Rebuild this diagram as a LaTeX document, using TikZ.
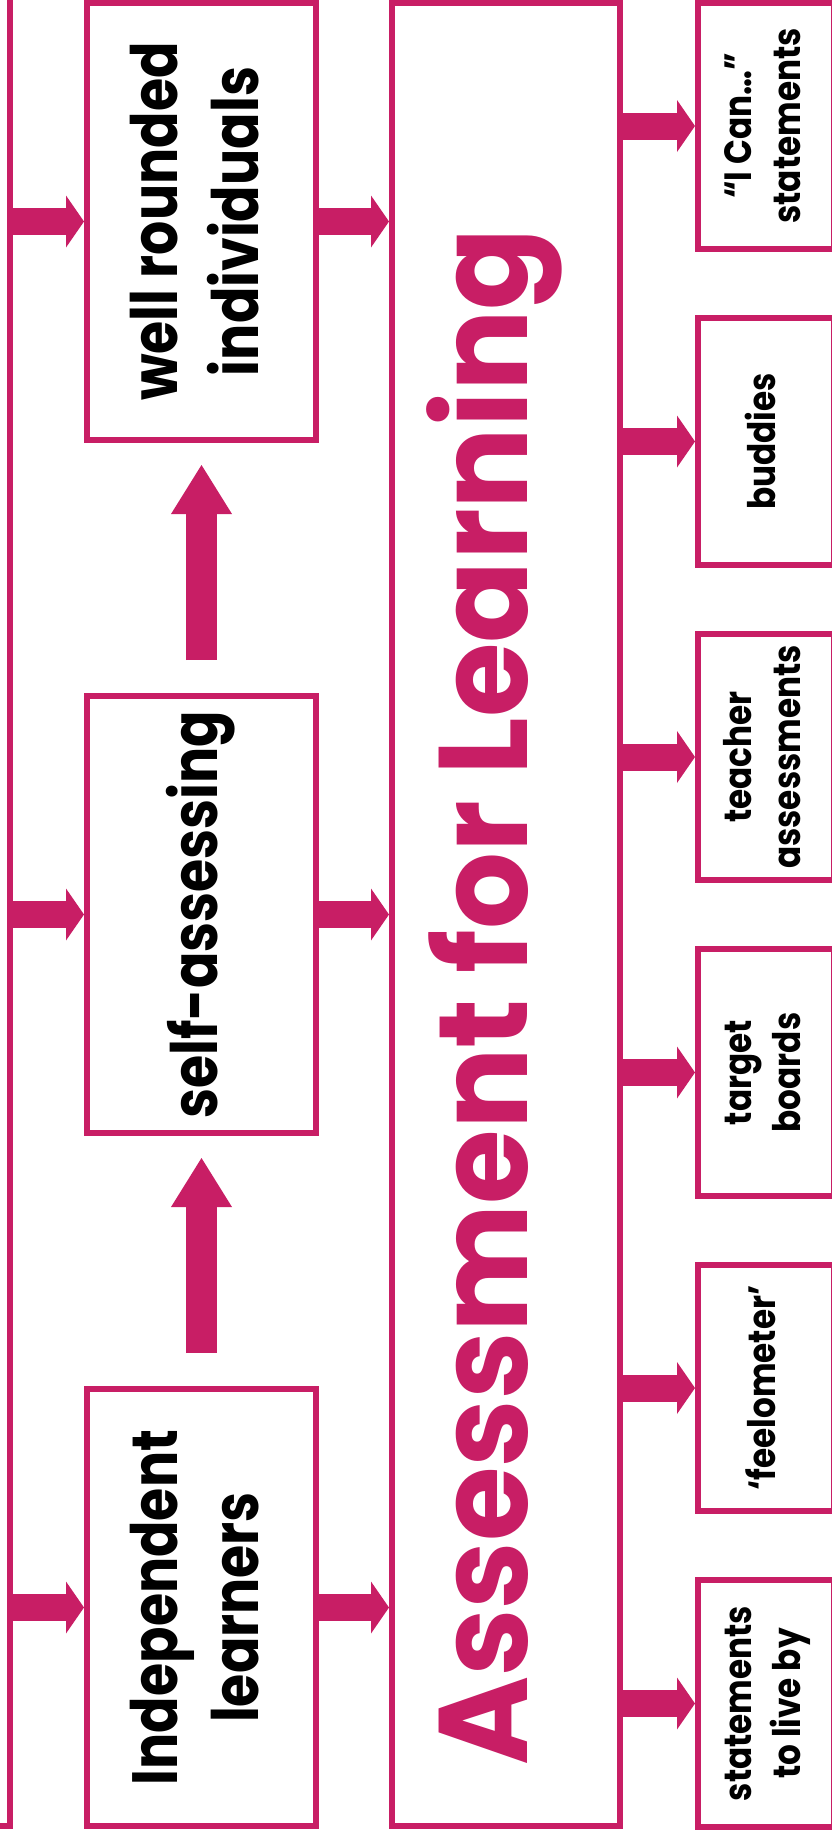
\documentclass[tikz,border=0pt]{standalone}
\usepackage{fontspec}
\setmainfont{Poppins}
\usepackage{graphicx}
\usetikzlibrary{arrows.meta, calc}
\definecolor{aflPink}{HTML}{C81E65}
\newcommand{\turnedtext}[2]{\rotatebox{90}{\scalebox{#1}[1]{\begin{tabular}{@{}c@{}}#2\end{tabular}}}}
\tikzset{
  aflbox/.style={
    rectangle, draw=aflPink, line width=6pt,
    fill=white, inner sep=0pt,
    align=center, text=black
  },
  pillar/.style={
    aflbox, minimum width=229pt, minimum height=437pt,
    font=\fontsize{64}{81}\selectfont\bfseries
  },
  tagbox/.style={
    aflbox, minimum width=136pt, minimum height=246.5pt,
    font=\fontsize{38}{49}\selectfont\bfseries
  },
  flowarrow/.style={
    -{Triangle[length=18pt, width=52pt, line width=0pt]},
    aflPink, line width=27pt
  },
  risearrow/.style={
    -{Triangle[length=49pt, width=61pt, line width=0pt]},
    aflPink, line width=31pt
  },
  titletext/.style={
    font=\fontsize{126}{150}\selectfont\bfseries, text=aflPink,
    rotate=90, anchor=base, inner sep=0pt
  }
}
\begin{document}
\begin{tikzpicture}[x=1pt, y=-1pt]
  \useasboundingbox (0,0) rectangle (832,1836);
  \clip (0,0) rectangle (832,1836);
  % left panel, mostly off the page
  \node[aflbox, minimum width=210pt, minimum height=1876pt] (lead) at (-95,888) {};
  % the three stages
  \node[pillar] (well) at (201.5,221.5) {\turnedtext{0.84}{well rounded\\individuals}};
  \node[pillar] (self) at (201.5,914.5) {\turnedtext{0.84}{self-assessing}};
  \node[pillar] (indep) at (201.5,1607.5) {\turnedtext{0.84}{Independent\\learners}};
  % central box
  \node[aflbox, minimum width=228pt, minimum height=1823pt] (afl) at (506,914.5) {};
  \node[titletext] (afltitle) at (527,997) {\scalebox{0.96}[1]{Assessment for Learning}};
  % strategies on the right
  \foreach \name/\txt [count=\i from 0] in {can/{“I Can…”\\statements}, buddies/{buddies}, teacher/{teacher\\assessments}, target/{target\\boards}, feel/{‘feelometer’}, live/{statements\\to live by}} {
    \node[tagbox] (\name) at (766,{126+315.5*\i}) {\turnedtext{0.86}{\txt}};
    \draw[flowarrow] (afl.east |- \name.west) -- (\name.west);
  }
  \foreach \p in {well, self, indep} {
    \draw[flowarrow] (lead.east |- \p.west) -- (\p.west);
    \draw[flowarrow] (\p.east) -- (afl.west |- \p.east);
  }
  \draw[risearrow, shorten <=33pt, shorten >=22pt] (self.north) -- (well.south);
  \draw[risearrow, shorten <=33pt, shorten >=22pt] (indep.north) -- (self.south);
\end{tikzpicture}
\end{document}
